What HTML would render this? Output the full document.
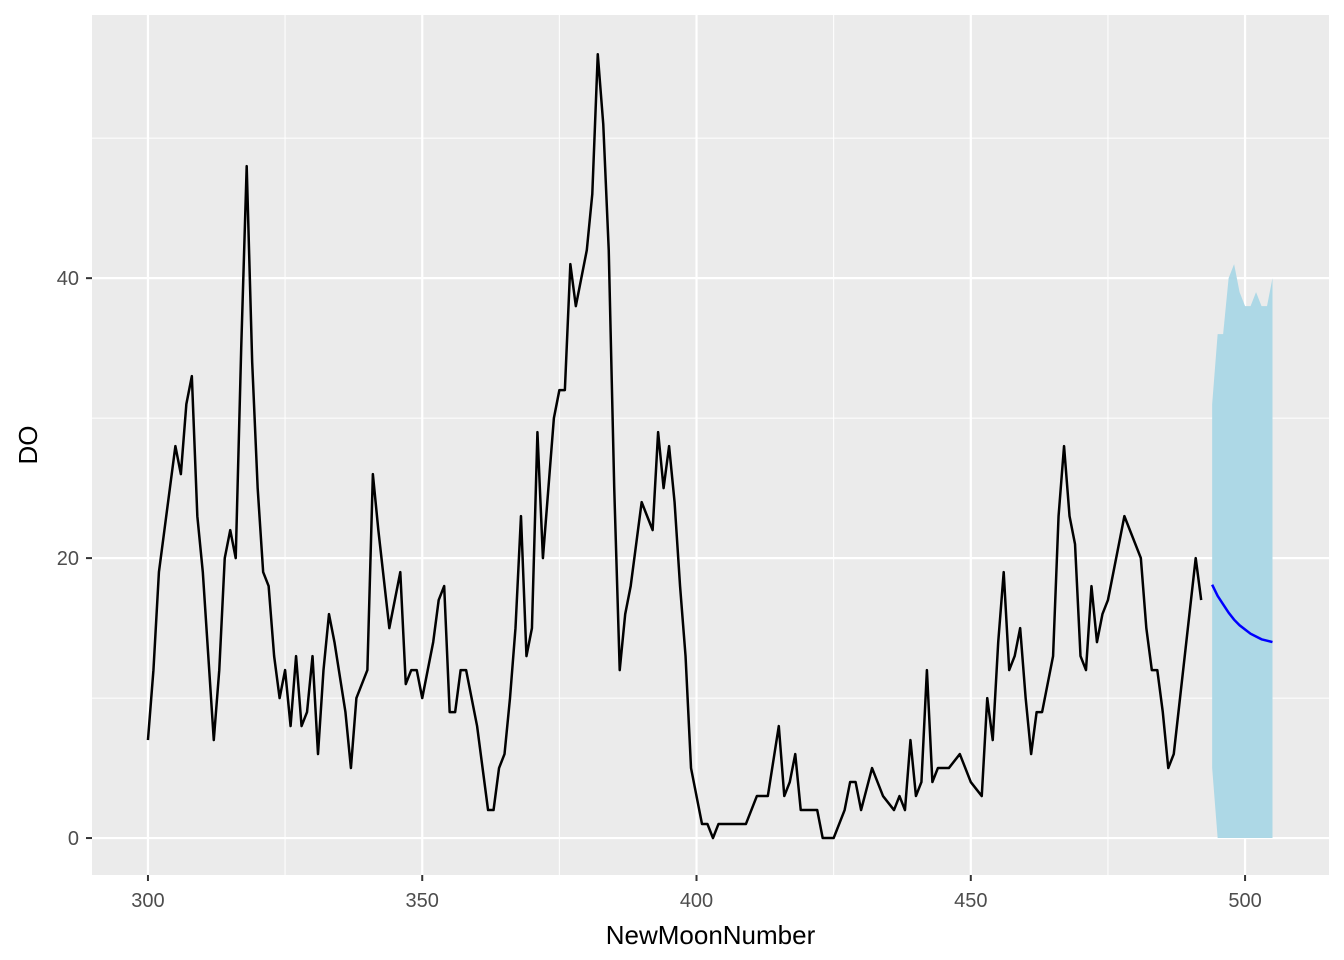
<!DOCTYPE html>
<html><head><meta charset="utf-8"><style>
body{margin:0;background:#fff;}
svg{display:block;font-family:"Liberation Sans",Arial,sans-serif;}
</style></head><body>
<svg id="chart" width="1344" height="960"></svg>
<script>
const obsX=[300,301,302,303,304,305,306,307,308,309,310,311,312,313,314,315,316,317,318,319,320,321,322,323,324,325,326,327,328,329,330,331,332,333,334,335,336,337,338,339,340,341,342,343,344,345,346,347,348,349,350,351,352,353,354,355,356,357,358,359,360,361,362,363,364,365,366,367,368,369,370,371,372,373,374,375,376,377,378,379,380,381,382,383,384,385,386,387,388,389,390,391,392,393,394,395,396,397,398,399,400,401,402,403,404,405,406,407,408,409,410,411,412,413,415,416,417,418,419,420,421,422,423,424,425,426,427,428,429,430,431,432,433,434,435,436,437,438,439,440,441,442,443,444,446,448,450,452,453,454,455,456,457,458,459,460,461,462,463,465,466,467,468,469,470,471,472,473,474,475,478,481,482,483,484,485,486,487,488,489,490,491,492];
const obsY=[7,12,19,22,25,28,26,31,33,23,19,13,7,12,20,22,20,35,48,34,25,19,18,13,10,12,8,13,8,9,13,6,12,16,14,11.5,9,5,10,11,12,26,22,18.5,15,17,19,11,12,12,10,12,14,17,18,9,9,12,12,10,8,5,2,2,5,6,10,15,23,13,15,29,20,25,30,32,32,41,38,40,42,46,56,51,42,25,12,16,18,21,24,23,22,29,25,28,24,18,13,5,3,1,1,0,1,1,1,1,1,1,2,3,3,3,8,3,4,6,2,2,2,2,0,0,0,1,2,4,4,2,3.5,5,4,3,2.5,2,3,2,7,3,4,12,4,5,5,6,4,3,10,7,14,19,12,13,15,10,6,9,9,13,23,28,23,21,13,12,18,14,16,17,23,20,15,12,12,9,5,6,9.5,13,16.5,20,17];
const fcX=[494,495,496,497,498,499,500,501,502,503,504,505];
const fcMean=[18.1,17.3,16.7,16.1,15.6,15.2,14.9,14.6,14.4,14.2,14.1,14.0];
const fcUpper=[31,36,36,40,41,39,38,38,39,38,38,40];
const fcLower=[5,0,0,0,0,0,0,0,0,0,0,0];
const xTicks=[300,350,400,450,500];
const xMinor=[325,375,425,475];
const yTicks=[0,20,40];
const yMinor=[10,30,50];

const L=92,R=1329,T=15,B=875;
const xMin=289.8,xMax=515.3,yMin=-2.64,yMax=58.8;
const sx=v=>L+(v-xMin)/(xMax-xMin)*(R-L);
const sy=v=>B-(v-yMin)/(yMax-yMin)*(B-T);
const NS="http://www.w3.org/2000/svg";
const svg=document.getElementById('chart');
function mk(tag,attrs,parent){const e=document.createElementNS(NS,tag);for(const k in attrs)e.setAttribute(k,attrs[k]);(parent||svg).appendChild(e);return e;}

const panel=mk('rect',{x:L,y:T,width:R-L,height:B-T,fill:'#ebebeb'});



xMinor.forEach(v=>{const l=mk('line',{x1:sx(v),x2:sx(v),y1:T,y2:B,stroke:'#fff','stroke-width':1});

});
yMinor.forEach(v=>{const l=mk('line',{x1:L,x2:R,y1:sy(v),y2:sy(v),stroke:'#fff','stroke-width':1});

});
xTicks.forEach(v=>{const l=mk('line',{x1:sx(v),x2:sx(v),y1:T,y2:B,stroke:'#fff','stroke-width':2.2});


const tk=mk('line',{x1:sx(v),x2:sx(v),y1:B,y2:B+6,stroke:'#333','stroke-width':2});


const t=mk('text',{x:sx(v),y:B+32,'text-anchor':'middle','font-size':20,fill:'#4d4d4d'});t.textContent=v;

});
yTicks.forEach(v=>{const l=mk('line',{x1:L,x2:R,y1:sy(v),y2:sy(v),stroke:'#fff','stroke-width':2.2});


const tk=mk('line',{x1:L-6,x2:L,y1:sy(v),y2:sy(v),stroke:'#333','stroke-width':2});


const t=mk('text',{x:L-13,y:sy(v)+7,'text-anchor':'end','font-size':20,fill:'#4d4d4d'});t.textContent=v;

});

let pts=fcX.map((x,i)=>sx(x)+','+sy(fcUpper[i]));
for(let i=fcX.length-1;i>=0;i--)pts.push(sx(fcX[i])+','+sy(fcLower[i]));
const rib=mk('polygon',{points:pts.join(' '),fill:'#add8e6'});



const obs=mk('polyline',{points:obsX.map((x,i)=>sx(x)+','+sy(obsY[i])).join(' '),fill:'none',stroke:'#000','stroke-width':2.5,'stroke-linejoin':'round'});



const fm=mk('polyline',{points:fcX.map((x,i)=>sx(x)+','+sy(fcMean[i])).join(' '),fill:'none',stroke:'#0000ff','stroke-width':2.5});



const xt=mk('text',{x:(L+R)/2,y:944,'text-anchor':'middle','font-size':26,fill:'#000'});xt.textContent='NewMoonNumber';


const yt=mk('text',{x:0,y:0,'text-anchor':'middle','font-size':26,fill:'#000',transform:'translate(37,'+((T+B)/2)+') rotate(-90)'});yt.textContent='DO';


</script>
</body></html>
